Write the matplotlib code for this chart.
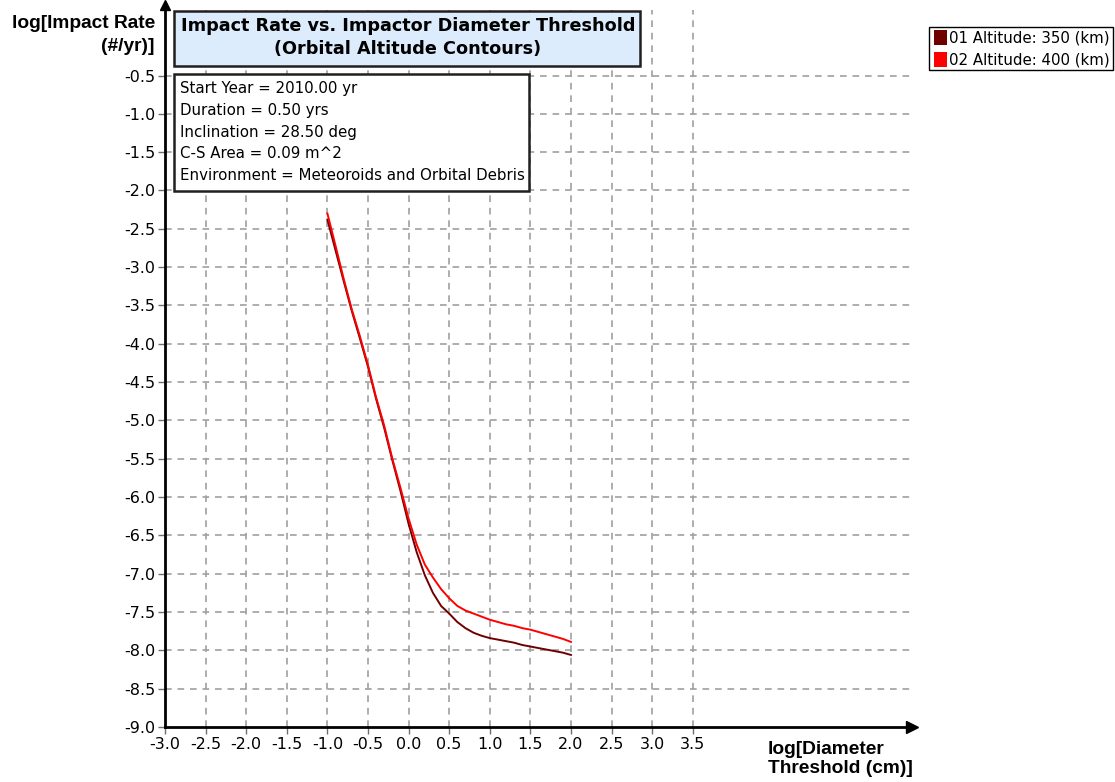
import numpy as np
import matplotlib.pyplot as plt
from matplotlib.patches import Rectangle

plt.rcParams['axes.unicode_minus'] = False

# data
diam = [-1.0, -0.9, -0.8, -0.7, -0.6, -0.5, -0.4, -0.3, -0.2, -0.1, 0.0,
        0.1, 0.2, 0.3, 0.4, 0.5, 0.6, 0.7, 0.8, 0.9, 1.0,
        1.1, 1.2, 1.3, 1.4, 1.5, 1.6, 1.7, 1.8, 1.9, 2.0]
rate_350 = [-2.38, -2.78, -3.18, -3.57, -3.93, -4.30, -4.72, -5.10, -5.52, -5.92, -6.35,
            -6.72, -7.02, -7.25, -7.42, -7.52, -7.63, -7.71, -7.77, -7.81, -7.84,
            -7.86, -7.88, -7.90, -7.93, -7.95, -7.97, -7.99, -8.01, -8.03, -8.06]
rate_400 = [-2.30, -2.72, -3.15, -3.55, -3.90, -4.28, -4.70, -5.07, -5.50, -5.88, -6.28,
            -6.62, -6.88, -7.05, -7.20, -7.32, -7.42, -7.48, -7.52, -7.56, -7.60,
            -7.63, -7.66, -7.68, -7.71, -7.73, -7.76, -7.79, -7.82, -7.85, -7.89]
series_names = ["01 Altitude: 350 (km)", "02 Altitude: 400 (km)"]
series_colors = ["#700000", "#ff0000"]

x_ticks = np.arange(-3.0, 3.51, 0.5)
y_ticks = np.arange(-9.0, -0.49, 0.5)

info_lines = ["Start Year = 2010.00 yr", "Duration = 0.50 yrs", "Inclination = 28.50 deg",
              "C-S Area = 0.09 m^2", "Environment = Meteoroids and Orbital Debris"]
title = "Impact Rate vs. Impactor Diameter Threshold\n(Orbital Altitude Contours)"

W, H = 1115, 782
fig = plt.figure(figsize=(W / 100, H / 100), dpi=100)


def fx(px):
    return px / W


def fy(py):
    return 1 - py / H


ax = fig.add_axes([fx(165), fy(727), fx(912) - fx(165), fy(5) - fy(727)])
ax.set_xlim(-3.0, 6.2)
ax.set_ylim(-9.0, 0.42)

for yv in y_ticks[1:]:
    ax.axhline(yv, color="#a0a0a0", lw=1.2, ls=(0, (4, 3.5)), zorder=0)
for xv in x_ticks[1:]:
    ax.axvline(xv, ymax=0.993, color="#a0a0a0", lw=1.2, ls=(0, (4, 3.5)), zorder=0)

ax.plot(diam, rate_350, color=series_colors[0], lw=1.4, zorder=3)
ax.plot(diam, rate_400, color=series_colors[1], lw=1.4, zorder=3)

ax.set_xticks(x_ticks)
ax.set_xticklabels([f"{v:.1f}" for v in x_ticks])
ax.set_yticks(y_ticks)
ax.set_yticklabels([f"{v:.1f}" for v in y_ticks])
ax.tick_params(direction="out", length=5, width=1, color="#707070", labelsize=11.5, pad=2)
for lab in ax.get_xticklabels() + ax.get_yticklabels():
    lab.set_family("DejaVu Sans")

ax.spines["top"].set_visible(False)
ax.spines["right"].set_visible(False)
ax.spines["left"].set_linewidth(2)
ax.spines["bottom"].set_linewidth(2)
ax.plot(1, -9.0, ">k", ms=9, transform=ax.get_yaxis_transform(), clip_on=False)
ax.plot(-3.0, 1, "^k", ms=7, transform=ax.get_xaxis_transform(), clip_on=False)

# axis labels
fig.text(fx(155), fy(35), "log[Impact Rate\n(#/yr)]", ha="right", va="center",
         fontsize=13.8, fontweight="bold", family="Liberation Sans", linespacing=1.4)
fig.text(fx(768), fy(759), "log[Diameter\nThreshold (cm)]", ha="left", va="center",
         fontsize=13.8, fontweight="bold", family="Liberation Sans", linespacing=1.2)

# title box
fig.patches.append(Rectangle((fx(174), fy(66)), fx(640) - fx(174), fy(11) - fy(66),
                             transform=fig.transFigure, facecolor="#dcecfc",
                             edgecolor="#202020", lw=1.8, zorder=5))
fig.text(fx(408), fy(37.5), title, ha="center", va="center", fontsize=12.7,
         fontweight="bold", family="DejaVu Sans", linespacing=1.35, zorder=6)

# info box
fig.patches.append(Rectangle((fx(174), fy(191)), fx(529) - fx(174), fy(74) - fy(191),
                             transform=fig.transFigure, facecolor="white",
                             edgecolor="#202020", lw=1.8, zorder=5))
fig.text(fx(180), fy(132), "\n".join(info_lines), ha="left", va="center", fontsize=10.8,
         family="DejaVu Sans", linespacing=1.58, zorder=6)

# legend
fig.patches.append(Rectangle((fx(929), fy(70)), fx(1113) - fx(929), fy(27) - fy(70),
                             transform=fig.transFigure, facecolor="white",
                             edgecolor="black", lw=1, zorder=5))
for i, (name, col) in enumerate(zip(series_names, series_colors)):
    yc = 38 + i * 22
    fig.patches.append(Rectangle((fx(934), fy(yc + 7)), fx(13), fy(0) - fy(15),
                                 transform=fig.transFigure, facecolor=col,
                                 edgecolor="none", zorder=6))
    fig.text(fx(949), fy(yc), name, ha="left", va="center", fontsize=10.8,
             family="DejaVu Sans", zorder=6)

fig.savefig("out.png", dpi=100)
